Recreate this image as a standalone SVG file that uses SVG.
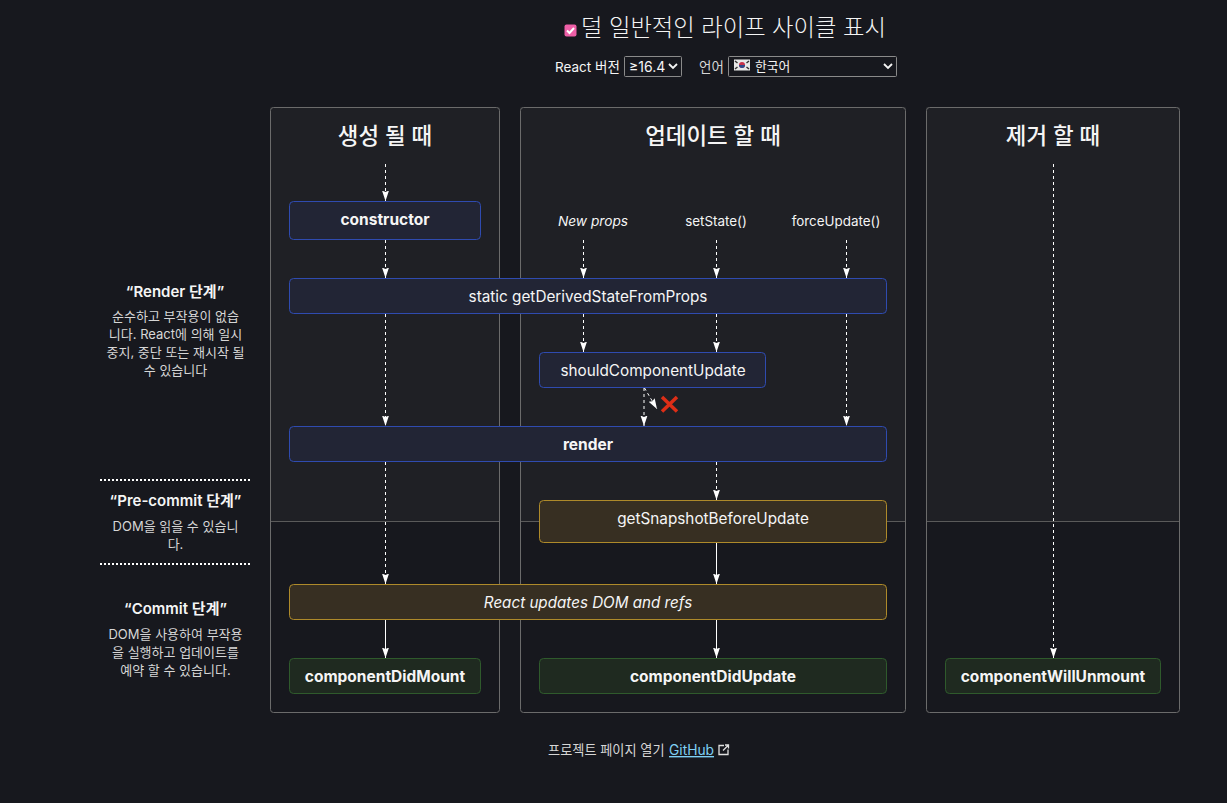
<svg xmlns="http://www.w3.org/2000/svg" width="1227" height="803" viewBox="0 0 1227 803">
<style>
text{font-family:Inter,"Noto Sans CJK KR",sans-serif;fill:#f5f5f5;text-anchor:middle}
.h{font-size:22.4px;font-weight:500}
.n{font-size:15.3px}
.b{font-weight:700;font-size:15.5px}
.i{font-style:italic;font-size:15.2px}
.s{font-size:13.4px}
.s.i{font-size:13.7px}
.t{font-size:15px;font-weight:600}
.d{font-size:13px;fill:#d6d6d6}
.blue{fill:#222535;stroke:#2f4bb0;stroke-width:1}
.yel{fill:#372f22;stroke:#ae8a2a;stroke-width:1}
.grn{fill:#1f2a20;stroke:#2f5a2c;stroke-width:1}
.col{fill:#1f2025}
.bor{fill:none;stroke:#6b6b6b;stroke-width:1}
.sep{stroke:#5a5a5a;stroke-width:1}
.dash{stroke:#fff;stroke-width:1;stroke-dasharray:3 3;fill:none;marker-end:url(#a)}
.solid{stroke:#fff;stroke-width:1;fill:none;marker-end:url(#a)}
.dot{stroke:#fff;stroke-width:2;stroke-dasharray:2 2}
</style>
<defs>
<marker id="a" markerUnits="userSpaceOnUse" markerWidth="11" markerHeight="8" refX="10.500" refY="3.500" orient="auto"><path d="M0 0L10.500 3.500L0 7L1.500 3.500Z" fill="#fff"/></marker>
</defs>
<rect width="1227" height="803" fill="#17181e"/>
<g id="header">
<rect x="564.500" y="24.500" width="12" height="12" rx="2" fill="#ee5fa7"/>
<path d="M567 30.500l2.500 2.500l4.500-5" fill="none" stroke="#fff" stroke-width="2"/>
<text x="581" y="36" style="font-size:23.300px;text-anchor:start;font-weight:300">덜 일반적인 라이프 사이클 표시</text>
<text x="555" y="72" style="font-size:13.500px;text-anchor:start">React 버전</text>
<rect x="624.500" y="56.500" width="57" height="20" rx="1" fill="#17181e" stroke="#8a8a8a"/>
<text x="629" y="72" style="font-size:14px;text-anchor:start">≥16.4</text>
<path d="M669 64l4 4l4-4" fill="none" stroke="#f5f5f5" stroke-width="1.800"/>
<text x="699" y="72" style="font-size:13.500px;text-anchor:start;fill:#d6d6d6">언어</text>
<rect x="728.500" y="56.500" width="168" height="20" rx="1" fill="#17181e" stroke="#8a8a8a"/>
<g id="flag">
<rect x="734" y="59.500" width="16" height="11" fill="#e8e8e8"/>
<circle cx="742" cy="65" r="3" fill="#c8324a"/>
<path d="M739 65a3 3 0 0 0 6 0z" fill="#2b4a8b"/>
<path d="M735 61l2.500 2M735 69l2.500-2M749 61l-2.500 2M749 69l-2.500-2" stroke="#333" stroke-width="1.500"/>
</g>
<text x="755" y="71" style="font-size:12.800px;text-anchor:start">한국어</text>
<path d="M884 64l4 4l4-4" fill="none" stroke="#f5f5f5" stroke-width="1.800"/>
</g>
<g id="columns">
<rect class="col" x="270" y="107" width="230" height="414.500"/>
<rect class="col" x="520" y="107" width="386" height="414.500"/>
<rect class="col" x="926" y="107" width="254" height="414.500"/>
<path class="sep" d="M270 521.500H500M520 521.500H906M926 521.500H1180"/>
<rect class="bor" x="270.500" y="107.500" width="229" height="605" rx="3"/>
<rect class="bor" x="520.500" y="107.500" width="385" height="605" rx="3"/>
<rect class="bor" x="926.500" y="107.500" width="253" height="605" rx="3"/>
<text class="h" x="385" y="144">생성 될 때</text>
<text class="h" x="713" y="144">업데이트 할 때</text>
<text class="h" x="1053" y="144">제거 할 때</text>
</g>
<g id="phases">
<text class="t" x="175" y="297">“Render 단계”</text>
<text class="d" x="175.500" y="321">순수하고 부작용이 없습</text>
<text class="d" x="175.500" y="339">니다. React에 의해 일시</text>
<text class="d" x="175.500" y="357">중지, 중단 또는 재시작 될</text>
<text class="d" x="175.500" y="375">수 있습니다</text>
<line class="dot" x1="100" y1="480" x2="251" y2="480"/>
<text class="t" x="175.500" y="506">“Pre-commit 단계”</text>
<text class="d" x="175.500" y="531">DOM을 읽을 수 있습니</text>
<text class="d" x="175.500" y="549">다.</text>
<line class="dot" x1="100" y1="564" x2="251" y2="564"/>
<text class="t" x="175.500" y="614">“Commit 단계”</text>
<text class="d" x="175.500" y="639">DOM을 사용하여 부작용</text>
<text class="d" x="175.500" y="657">을 실행하고 업데이트를</text>
<text class="d" x="175.500" y="675">예약 할 수 있습니다.</text>
</g>
<g id="connectors">
<path class="dash" d="M385.500 164V201"/>
<path class="dash" d="M385.500 240V278"/>
<path class="dash" d="M385.500 314V426"/>
<path class="dash" d="M385.500 462V584"/>
<path class="solid" d="M385.500 620V658"/>
<path class="dash" d="M583.500 240V278"/>
<path class="dash" d="M716.500 240V278"/>
<path class="dash" d="M846.500 240V278"/>
<path class="dash" d="M583.500 314V352"/>
<path class="dash" d="M716.500 314V352"/>
<path class="dash" d="M846.500 314V426"/>
<path class="dash" d="M644 388V426"/>
<path class="dash" d="M644.500 388L657 409"/>
<path class="dash" d="M716.500 462V500"/>
<path class="solid" d="M716.500 543V584"/>
<path class="solid" d="M716.500 620V658"/>
<path class="dash" d="M1053.500 164V658"/>
</g>
<g id="constructor"><rect class="blue" x="289.500" y="201.500" width="191" height="38" rx="4"/><text class="n b" x="385" y="225">constructor</text></g>
<g id="new-props"><text class="s i" x="593" y="226">New props</text></g>
<g id="set-state"><text class="s" x="716" y="226">setState()</text></g>
<g id="force-update"><text class="s" x="836" y="226">forceUpdate()</text></g>
<g id="gdsfp"><rect class="blue" x="289.500" y="278.500" width="597" height="35" rx="4"/><text class="n" x="588" y="302">static getDerivedStateFromProps</text></g>
<g id="scu"><rect class="blue" x="539.500" y="352.500" width="226" height="35" rx="4"/><text class="n" x="653" y="376">shouldComponentUpdate</text></g>
<g id="cancel"><path d="M662 397L677 411.500M677 397L662 411.500" stroke="#dd2e17" stroke-width="3.500" fill="none"/></g>
<g id="render"><rect class="blue" x="289.500" y="426.500" width="597" height="35" rx="4"/><text class="n b" x="588" y="450">render</text></g>
<g id="gsbu"><rect class="yel" x="539.500" y="500.500" width="347" height="42" rx="4"/><text class="n" x="713" y="524">getSnapshotBeforeUpdate</text></g>
<g id="dom-refs"><rect class="yel" x="289.500" y="584.500" width="597" height="35" rx="4"/><text class="n i" x="588" y="608">React updates DOM and refs</text></g>
<g id="cdm"><rect class="grn" x="289.500" y="658.500" width="191" height="35" rx="4"/><text class="n b" x="385" y="682">componentDidMount</text></g>
<g id="cdu"><rect class="grn" x="539.500" y="658.500" width="347" height="35" rx="4"/><text class="n b" x="713" y="682">componentDidUpdate</text></g>
<g id="cwu"><rect class="grn" x="945.500" y="658.500" width="215" height="35" rx="4"/><text class="n b" x="1053" y="682">componentWillUnmount</text></g>
<g id="footer">
<text x="548" y="755" style="font-size:13.200px;text-anchor:start;fill:#d6d6d6">프로젝트 페이지 열기</text>
<text x="669" y="755" style="font-size:13.800px;text-anchor:start;fill:#7fd0f5;text-decoration:underline">GitHub</text>
<path d="M724 745.500h-5v9h9v-5M723 750.500l5.500-5.500M725 745h3.500v3.500" fill="none" stroke="#e0e0e0" stroke-width="1.300"/>
</g>
</svg>
